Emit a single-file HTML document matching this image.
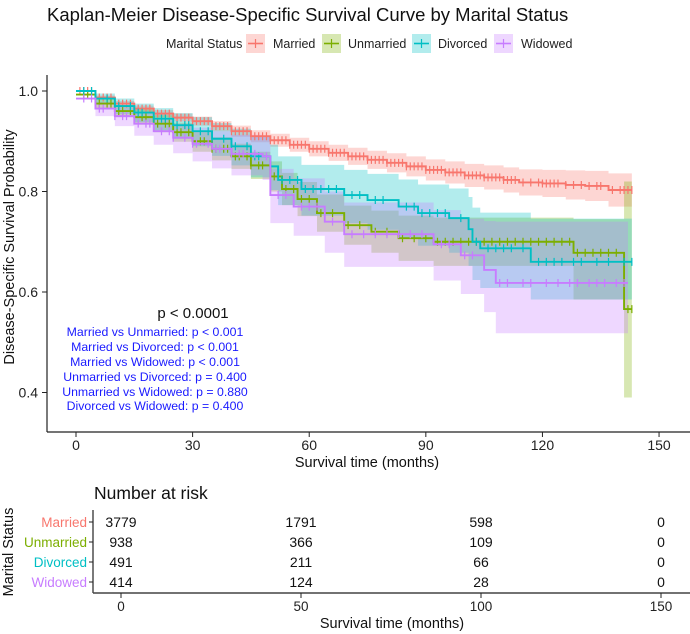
<!DOCTYPE html>
<html><head><meta charset="utf-8">
<style>
html,body{margin:0;padding:0;background:#fff;}
svg{display:block;font-family:"Liberation Sans",Arial,sans-serif;}
</style></head>
<body>
<svg id="chart" width="690" height="634" viewBox="0 0 690 634" xmlns="http://www.w3.org/2000/svg">
  <text x="47" y="21" font-size="18.5" fill="#111">Kaplan-Meier Disease-Specific Survival Curve by Marital Status</text>
  <g font-size="12.5" fill="#222">
    <text x="166" y="48">Marital Status</text>
    <g>
      <rect x="246" y="34" width="19" height="19" fill="#F8766D" opacity="0.3"/>
      <line x1="248" y1="43.5" x2="263" y2="43.5" stroke="#F8766D" stroke-width="1.6"/>
      <line x1="255.5" y1="39" x2="255.5" y2="48" stroke="#F8766D" stroke-width="1.2"/>
      <text x="273" y="48">Married</text></g>
    <g>
      <rect x="322" y="34" width="19" height="19" fill="#7CAE00" opacity="0.3"/>
      <line x1="324" y1="43.5" x2="339" y2="43.5" stroke="#7CAE00" stroke-width="1.6"/>
      <line x1="331.5" y1="39" x2="331.5" y2="48" stroke="#7CAE00" stroke-width="1.2"/>
      <text x="348" y="48">Unmarried</text></g>
    <g>
      <rect x="412" y="34" width="19" height="19" fill="#00BFC4" opacity="0.3"/>
      <line x1="414" y1="43.5" x2="429" y2="43.5" stroke="#00BFC4" stroke-width="1.6"/>
      <line x1="421.5" y1="39" x2="421.5" y2="48" stroke="#00BFC4" stroke-width="1.2"/>
      <text x="438" y="48">Divorced</text></g>
    <g>
      <rect x="494" y="34" width="19" height="19" fill="#C77CFF" opacity="0.3"/>
      <line x1="496" y1="43.5" x2="511" y2="43.5" stroke="#C77CFF" stroke-width="1.6"/>
      <line x1="503.5" y1="39" x2="503.5" y2="48" stroke="#C77CFF" stroke-width="1.2"/>
      <text x="521" y="48">Widowed</text></g>
  </g>
  <g id="bands"></g>
  <g id="curves"></g>
  <g id="axes"></g>
  <text transform="translate(14,247) rotate(-90)" text-anchor="middle" font-size="14.5" fill="#111">Disease-Specific Survival Probability</text>
  <text x="367" y="467" text-anchor="middle" font-size="14.5" fill="#111">Survival time (months)</text>
  <text x="193" y="318" text-anchor="middle" font-size="15" fill="#111">p &lt; 0.0001</text>
  <g font-size="12.3" fill="#1a1aff" text-anchor="middle">
    <text x="155" y="336">Married vs Unmarried: p &lt; 0.001</text>
    <text x="155" y="351">Married vs Divorced: p &lt; 0.001</text>
    <text x="155" y="366">Married vs Widowed: p &lt; 0.001</text>
    <text x="155" y="381">Unmarried vs Divorced: p = 0.400</text>
    <text x="155" y="396">Unmarried vs Widowed: p = 0.880</text>
    <text x="155" y="410">Divorced vs Widowed: p = 0.400</text>
  </g>
  <text x="94" y="499" font-size="17.5" fill="#111">Number at risk</text>
  <text transform="translate(13,552) rotate(-90)" text-anchor="middle" font-size="14.5" fill="#111">Marital Status</text>
  <g id="risk"></g>
  <text x="392" y="628" text-anchor="middle" font-size="14.5" fill="#111">Survival time (months)</text>
</svg>
<script>
// ---- data ----
const marriedT = [0,5,10,15,20,25,30,35,40,45,50,55,60,65,70,75,80,85,90,95,100,105,110,114,120,126,131,137];
const marriedS = [1.0,0.987,0.975,0.965,0.955,0.947,0.94,0.93,0.92,0.91,0.902,0.893,0.885,0.877,0.87,0.863,0.857,0.85,0.843,0.838,0.832,0.828,0.823,0.818,0.816,0.813,0.811,0.803];
const marriedLo = [1.0,0.983,0.970,0.959,0.948,0.939,0.931,0.920,0.909,0.898,0.889,0.879,0.870,0.861,0.853,0.845,0.838,0.830,0.822,0.816,0.809,0.804,0.798,0.792,0.789,0.784,0.781,0.770];
const marriedHi = [1.0,0.991,0.980,0.971,0.962,0.955,0.949,0.940,0.931,0.922,0.915,0.907,0.900,0.893,0.887,0.881,0.876,0.870,0.864,0.860,0.855,0.852,0.848,0.844,0.843,0.842,0.841,0.836];
const marriedCens = [1,2,3,4,5,6,7,8,9,10,11,12,13,14,15,16,17,18,19,20,21,22,23,24,25,26,27,28,29,30,31,32,33,34,35,36,37,38,39,40,41,42,43,44,45,46,47,48,49,50,51,52,53,54,55,56,57,58,59,60,61,62,63,64,65,66,67,68,69,70,71,72,73,74,75,76,77,78,79,80,81,82,83,84,85,86,87,88,89,90,91,92,93,94,95,96,97,98,99,100,101,102,103,104,105,106,107,108,109,110,111,112,113,115,117,119,120,121,122,123,124,126,128,130,132,134,135,138,140,141,142,143];

const unmarriedT = [0,5,10,15,20,25,30,35,40,45,50,53,57,62,69,76,83,92,128,141];
const unmarriedS = [0.993,0.975,0.96,0.948,0.935,0.918,0.90,0.885,0.87,0.852,0.83,0.805,0.785,0.757,0.733,0.72,0.707,0.70,0.678,0.566];
const unmarriedLo = [0.993,0.966,0.948,0.933,0.918,0.899,0.879,0.862,0.845,0.825,0.800,0.773,0.751,0.720,0.694,0.678,0.662,0.652,0.585,0.39];
const unmarriedHi = [0.993,0.984,0.972,0.963,0.952,0.937,0.921,0.908,0.895,0.879,0.860,0.837,0.819,0.794,0.772,0.762,0.752,0.748,0.745,0.82];
const unmarriedCens = [2,3,5,6,8,9,11,12,14,15,17,18,20,21,23,24,26,27,29,30,32,33,35,36,38,39,41,42,44,45,47,48,50,51,54,56,58,60,63,66,70,73,77,80,84,87,90,93,95,97,99,101,103,105,107,109,111,113,115,117,119,121,123,125,127,129,131,133,135,137,139,142,143];

const divorcedT = [0,5,10,15,20,25,30,35,40,45,50,52,58,69,75,83,88,96,101,102,104,117];
const divorcedS = [1.0,0.985,0.97,0.957,0.945,0.932,0.92,0.905,0.89,0.87,0.85,0.823,0.805,0.793,0.783,0.77,0.757,0.747,0.725,0.70,0.687,0.66];
const divorcedLo = [1.0,0.973,0.954,0.938,0.922,0.905,0.89,0.871,0.852,0.828,0.803,0.773,0.752,0.737,0.724,0.708,0.692,0.678,0.652,0.624,0.608,0.585];
const divorcedHi = [1.0,0.995,0.985,0.975,0.966,0.956,0.948,0.936,0.925,0.909,0.893,0.870,0.853,0.843,0.835,0.824,0.814,0.806,0.789,0.768,0.758,0.746];
const divorcedCens = [2,4,5,8,10,11,14,16,17,20,22,23,26,28,29,32,34,35,38,40,41,44,46,47,53,55,57,59,61,63,65,67,71,73,77,79,85,87,89,91,93,95,99,103,106,108,110,112,115,119,121,123,125,128,130,134,137,141,143];

const widowedT = [0,5,10,15,20,25,30,35,40,48,50,56,64,69,92,99,105,108];
const widowedS = [0.985,0.965,0.95,0.935,0.92,0.907,0.895,0.885,0.875,0.87,0.793,0.77,0.74,0.715,0.695,0.673,0.644,0.618];
const widowedLo = [0.985,0.950,0.930,0.911,0.893,0.876,0.860,0.846,0.832,0.823,0.737,0.712,0.678,0.650,0.623,0.596,0.560,0.518];
const widowedHi = [0.985,0.978,0.968,0.957,0.945,0.935,0.927,0.920,0.913,0.911,0.845,0.826,0.800,0.778,0.763,0.746,0.741,0.740];
const widowedCens = [2,4,6,7,10,12,13,16,18,19,22,24,25,28,30,31,34,36,37,40,42,43,46,49,52,54,58,60,62,66,71,74,77,80,83,86,89,94,96,100,102,109,111,115,117,121,124,127,129,132,134,136,139,141];

const seriesNames = ["Married","Unmarried","Divorced","Widowed"];
const endTimes = [143,143,143,142];
const xTicks = [0,30,60,90,120,150];
const yTicks = [0.4,0.6,0.8,1.0];
const yTickLabels = ["0.4","0.6","0.8","1.0"];
const riskTimes = [0,50,100,150];
const riskMarried = [3779,1791,598,0];
const riskUnmarried = [938,366,109,0];
const riskDivorced = [491,211,66,0];
const riskWidowed = [414,124,28,0];

// ---- scales ----
const NS = "http://www.w3.org/2000/svg";
const x = t => 76 + t * 3.887;
const y = s => 91 + (1 - s) * 502.5;
const rx = t => 121 + t * 3.6;
const rowY = i => 522 + i * 20;
const colors = ["#F8766D","#7CAE00","#00BFC4","#C77CFF"];
const T = [marriedT,unmarriedT,divorcedT,widowedT];
const S = [marriedS,unmarriedS,divorcedS,widowedS];
const LO = [marriedLo,unmarriedLo,divorcedLo,widowedLo];
const HI = [marriedHi,unmarriedHi,divorcedHi,widowedHi];
const CENS = [marriedCens,unmarriedCens,divorcedCens,widowedCens];
const RISK = [riskMarried,riskUnmarried,riskDivorced,riskWidowed];

function mk(tag, attrs, parent){
  const e = document.createElementNS(NS, tag);
  for (const k in attrs) e.setAttribute(k, attrs[k]);
  parent.appendChild(e); return e;
}
function stepPath(ts, vs, end){
  let d = "M" + x(ts[0]) + "," + y(vs[0]);
  for (let i = 1; i < ts.length; i++){
    d += "H" + x(ts[i]) + "V" + y(vs[i]);
  }
  return d + "H" + x(end);
}
function stepAt(ts, vs, t){
  let v = vs[0];
  for (let i = 0; i < ts.length; i++) if (ts[i] <= t) v = vs[i];
  return v;
}

const bands = document.getElementById("bands");
const curves = document.getElementById("curves");
for (let k = 0; k < 4; k++){
  const ts = T[k], lo = LO[k], hi = HI[k], end = endTimes[k];
  let d = "M" + x(ts[0]) + "," + y(hi[0]);
  for (let i = 1; i < ts.length; i++) d += "H" + x(ts[i]) + "V" + y(hi[i]);
  d += "H" + x(end) + "V" + y(lo[lo.length-1]);
  for (let i = ts.length - 1; i >= 1; i--) d += "H" + x(ts[i]) + "V" + y(lo[i-1]);
  d += "H" + x(ts[0]) + "Z";
  const b = mk("path", {d: d, fill: colors[k], "fill-opacity": 0.3, stroke: "none"}, bands);
  
  

  const g = mk("g", {}, curves);
  
  
  mk("path", {d: stepPath(ts, S[k], end), fill: "none", stroke: colors[k], "stroke-width": 1.9}, g);
  let cd = "";
  CENS[k].forEach(t => {
    if (t > end) return;
    const yy = y(stepAt(ts, S[k], t));
    cd += "M" + x(t) + "," + (yy - 4) + "V" + (yy + 4);
  });
  const c = mk("path", {d: cd, stroke: colors[k], "stroke-width": 1.2, fill: "none"}, g);
  
  
}

// ---- main axes ----
const axes = document.getElementById("axes");
mk("line", {x1: 47, y1: 75, x2: 47, y2: 432, stroke: "#222", "stroke-width": 1.2}, axes);
mk("line", {x1: 47, y1: 432, x2: 690, y2: 432, stroke: "#222", "stroke-width": 1.2}, axes);
yTicks.forEach((v, i) => {
  mk("line", {x1: 42, y1: y(v), x2: 47, y2: y(v), stroke: "#222"}, axes);
  const t = mk("text", {x: 38, y: y(v) + 5, "text-anchor": "end", "font-size": 14, fill: "#222"}, axes);
  t.textContent = yTickLabels[i];
  
  
});
xTicks.forEach(v => {
  mk("line", {x1: x(v), y1: 432, x2: x(v), y2: 437, stroke: "#222"}, axes);
  const t = mk("text", {x: x(v), y: 450, "text-anchor": "middle", "font-size": 14, fill: "#222"}, axes);
  t.textContent = v;
  
  
});

// ---- risk table ----
const risk = document.getElementById("risk");
mk("line", {x1: 93, y1: 510, x2: 93, y2: 593, stroke: "#222", "stroke-width": 1.2}, risk);
mk("line", {x1: 93, y1: 593, x2: 690, y2: 593, stroke: "#444", "stroke-width": 1.6}, risk);
riskTimes.forEach(v => {
  mk("line", {x1: rx(v), y1: 593, x2: rx(v), y2: 598, stroke: "#222"}, risk);
  const t = mk("text", {x: rx(v), y: 611, "text-anchor": "middle", "font-size": 13.5, fill: "#222"}, risk);
  t.textContent = v;
  
  
});
for (let k = 0; k < 4; k++){
  mk("line", {x1: 89, y1: rowY(k), x2: 93, y2: rowY(k), stroke: "#222"}, risk);
  const lab = mk("text", {x: 87, y: rowY(k) + 5, "text-anchor": "end", "font-size": 13.5, fill: colors[k]}, risk);
  lab.textContent = seriesNames[k];
  
  
  RISK[k].forEach((n, i) => {
    const t = mk("text", {x: rx(riskTimes[i]), y: rowY(k) + 5, "text-anchor": "middle", "font-size": 14, fill: "#111"}, risk);
    t.textContent = n;
    
    
  });
}
</script>
</body></html>
